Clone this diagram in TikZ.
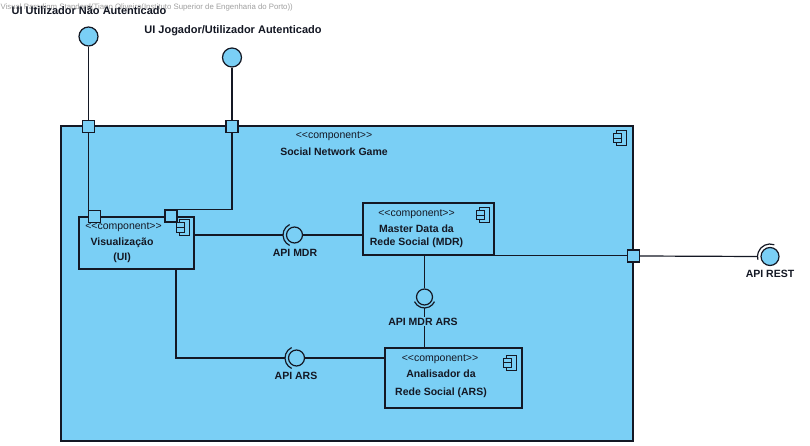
\documentclass[tikz,border=0pt]{standalone}
\usepackage{fontspec}
\setmainfont{Liberation Sans}
\definecolor{bg}{RGB}{122,207,245}
\definecolor{ln}{RGB}{20,24,36}
\definecolor{wm}{RGB}{160,160,160}
\tikzset{
  compicon/.pic={
    \draw[ln, line width=1pt, fill=bg] (0,0) rectangle (10,15);
    \draw[ln, line width=1pt, fill=bg] (-3,3) rectangle (5,7.5) (-3,7.5) rectangle (5,12);
  }
}
\begin{document}
\begin{tikzpicture}[x=1pt, y=-1pt, line width=1.2pt,
  box/.style={draw=ln, fill=bg, rectangle, inner sep=0pt},
  port/.style={draw=ln, fill=bg, rectangle, minimum size=12pt, inner sep=0pt},
  ball/.style={draw=ln, fill=bg, circle, minimum size=16pt, inner sep=0pt},
  bigball/.style={draw=ln, fill=bg, circle, minimum size=19pt, inner sep=0pt},
  wire/.style={draw=ln, line width=1.2pt},
  st/.style={font=\fontsize{10.5}{12}\selectfont, text=ln, inner sep=0pt},
  bt/.style={font=\bfseries\fontsize{10.5}{12}\selectfont, text=ln, inner sep=0pt},
  lbl/.style={font=\bfseries\fontsize{10.5}{12}\selectfont, text=ln, inner sep=1pt, fill=bg},
  wmark/.style={font=\fontsize{7.8}{9}\selectfont, text=wm, inner sep=0pt, anchor=west}
]
\useasboundingbox (0,0) rectangle (810,446);
\fill[white] (0,0) rectangle (810,446);

% watermark
\node[wmark] (wmk) at (0,7) {Visual Paradigm Standard(Tiago Oliveira(Instituto Superior de Engenharia do Porto))};

% outer component
\node[box, minimum width=572pt, minimum height=315pt] (sng) at (347,283.5) {};
\pic at (616,131) {compicon};
\node[st] (sngst) at (334,136) {<{}<component>{}>};
\node[bt] (sngnm) at (334,152) {Social Network Game};

% provided interfaces at the top
\node[bigball] (b1) at (88.5,36.5) {};
\node[bigball] (b2) at (232,57.5) {};
\node[bt, font=\bfseries\fontsize{11}{13}\selectfont] (l1) at (89,11) {UI Utilizador Não Autenticado};
\node[bt, font=\bfseries\fontsize{11}{13}\selectfont] (l2) at (233,31) {UI Jogador/Utilizador Autenticado};

% ports
\coordinate (p1c) at (88.5,126.5);
\coordinate (p2c) at (232,126.5);
\node[port] (p1) at (p1c) {};
\node[port] (p2) at (p2c) {};

% inner components
\node[box, minimum width=115pt, minimum height=52pt] (vis) at (136.5,243) {};
\node[box, minimum width=131pt, minimum height=52pt] (mdr) at (428.5,229) {};
\node[box, minimum width=137pt, minimum height=60pt] (ars) at (453.5,378) {};

\pic at (179,220) {compicon};
\pic at (479,208) {compicon};
\pic at (506,355) {compicon};

\node[st] (visst) at (123.5,227) {<{}<component>{}>};
\node[bt] (visn1) at (122,242.5) {Visualização};
\node[bt] (visn2) at (122,258) {(UI)};

\node[st] (mdrst) at (416.5,214) {<{}<component>{}>};
\node[bt] (mdrn1) at (416.5,228.7) {Master Data da};
\node[bt] (mdrn2) at (416.5,243) {Rede Social (MDR)};

\node[st] (arsst) at (440,359) {<{}<component>{}>};
\node[bt] (arsn1) at (441,374) {Analisador da};
\node[bt] (arsn2) at (441,392.5) {Rede Social (ARS)};

% ports on Visualizacao and on the outer right edge
\node[port] (p3) at (94.5,216.5) {};
\node[port] (p4) at (171,216) {};
\node[port] (p5) at (633.5,256) {};

% top delegation connectors
\draw[wire] (b1.south) -- (p1.north);
\draw[wire] (b2.south) -- (p2.north);
\draw[wire] (p1.south) -- (p1.south |- p3.north);
\draw[wire] (p2.south) |- (p4.north east);

% API MDR
\node[ball] (bmdr) at (294.5,235) {};
\coordinate (smdr) at ([xshift=-11.5pt]bmdr.center);
\draw[wire] (vis.east |- smdr) -- (smdr);
\draw[wire] (bmdr.east) -- (mdr.west |- bmdr);
\draw[wire] ([shift={(115:11.5pt)}]bmdr.center) arc[start angle=115, end angle=245, radius=11.5pt];
\node[lbl] (lmdr) at (295,253) {API MDR};

% API ARS
\node[ball] (bars) at (296.5,358) {};
\coordinate (sars) at ([xshift=-11.5pt]bars.center);
\coordinate (bend) at (176,358);
\draw[wire] (vis.south -| bend) -- (bend) -- (sars);
\draw[wire] (bars.east) -- (ars.west |- bars);
\draw[wire] ([shift={(115:11.5pt)}]bars.center) arc[start angle=115, end angle=245, radius=11.5pt];
\node[lbl] (lars) at (296,375.7) {API ARS};

% API MDR ARS
\node[ball] (bmars) at (424.5,297) {};
\coordinate (smars) at ([yshift=-11pt]bmars.center);
\draw[wire] (mdr.south -| bmars) -- (bmars.north);
\draw[wire] (smars) -- (ars.north -| smars);
\draw[wire] ([shift={(205:11pt)}]bmars.center) arc[start angle=205, end angle=335, radius=11pt];
\node[lbl] (lmars) at (423,321.5) {API MDR ARS};

% API REST
\node[ball, minimum size=18pt] (brest) at (770,256.5) {};
\coordinate (srest) at ([xshift=-12.5pt]brest.center);
\draw[wire] (mdr.south east) -- (mdr.south east -| p5.west);
\draw[wire] (p5.east) -- (srest);
\draw[wire] ([shift={(70:12.5pt)}]brest.center) arc[start angle=70, end angle=195, radius=12.5pt];
\node[bt] (lrest) at (770,274) {API REST};
\end{tikzpicture}
\end{document}
